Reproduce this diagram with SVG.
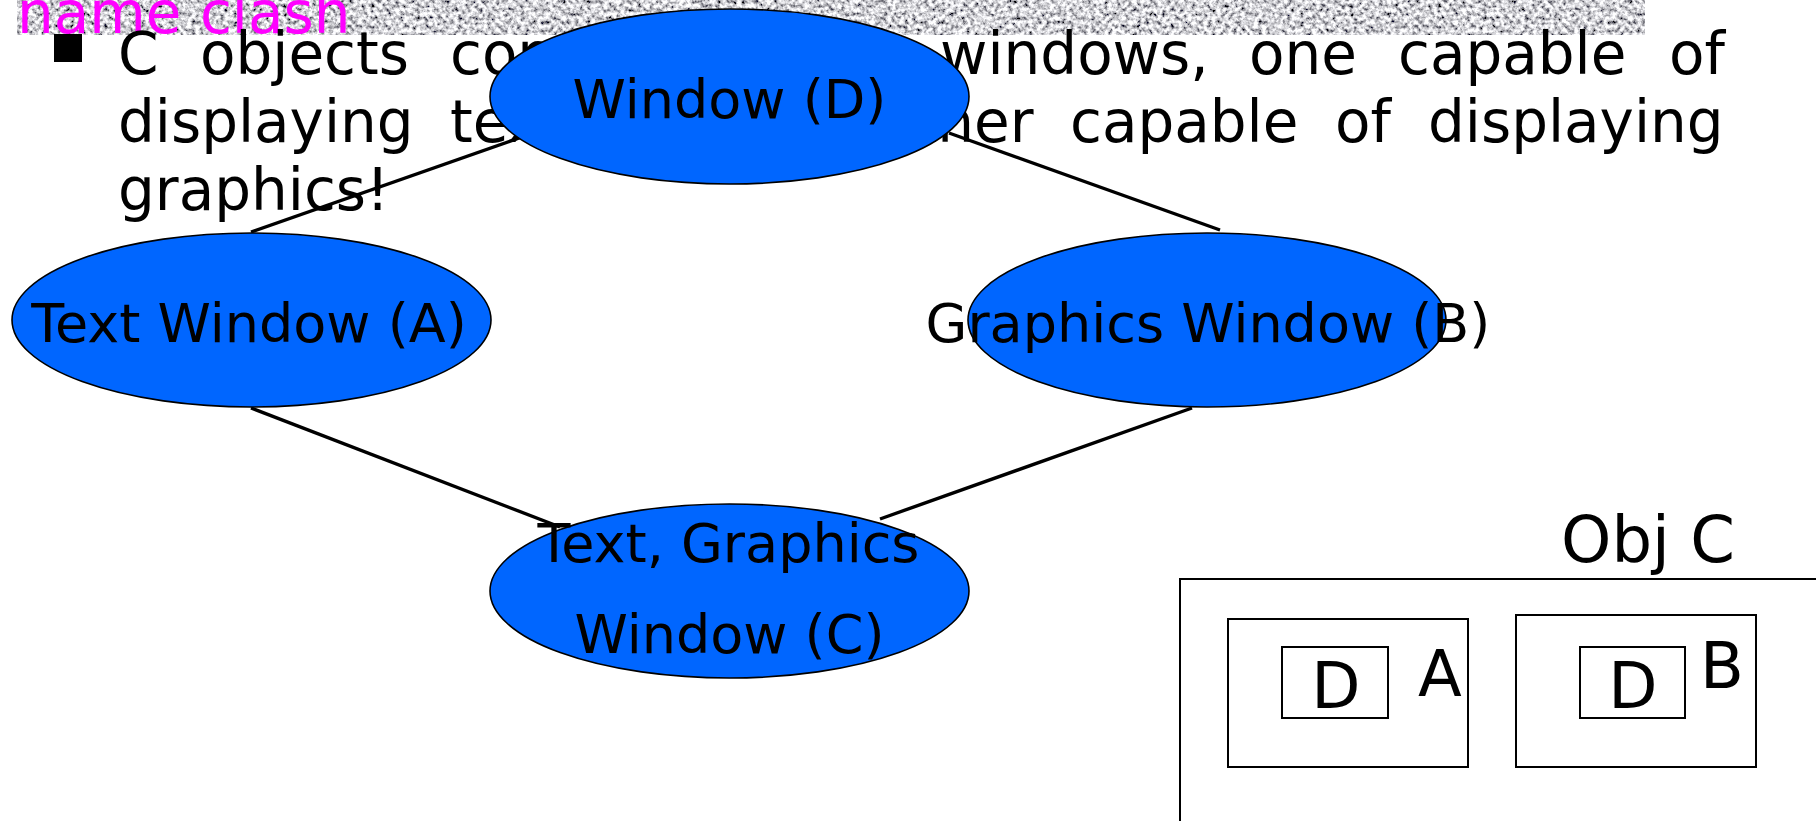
<svg xmlns="http://www.w3.org/2000/svg" width="1816" height="821" viewBox="0 0 1816 821">
  <style>
    text { font-family: "DejaVu Sans", "Liberation Sans", sans-serif; fill: #000; }
    .body { font-size: 58px; }
    .title { font-size: 58px; fill: #ff00ff; }
    .lbl { font-size: 54px; text-anchor: middle; }
    .box-lbl { font-size: 64px; }
    .node ellipse { fill: #0066ff; stroke: #000; stroke-width: 1.6; }
    .edge { stroke: #000; stroke-width: 3.4; fill: none; }
    .frame { fill: none; stroke: #000; stroke-width: 2; }
  </style>
  <defs>
    <!-- grainy grey header band -->
    <filter id="grain" filterUnits="userSpaceOnUse" x="17" y="0" width="1628" height="35">
      <feTurbulence type="fractalNoise" baseFrequency="0.24" numOctaves="3" seed="7" result="n"/>
      <feColorMatrix in="n" type="matrix" values="2.2 0 0 0 -0.45  2.2 0 0 0 -0.45  2.2 0 0 0 -0.42  0 0 0 0 1"/>
    </filter>
  </defs>

  <rect width="1816" height="821" fill="#fff"/>

  <!-- header -->
  <rect x="17" y="0" width="1628" height="35" fill="#a8a8a8" filter="url(#grain)"/>
  <text class="title" x="17" y="33">name clash</text>

  <!-- bullet paragraph (justified) -->
  <rect x="54" y="34" width="28" height="28" fill="#000"/>
  <text class="body" y="74"><tspan x="118">C</tspan><tspan x="200">objects</tspan><tspan x="450">consist</tspan><tspan x="695">of</tspan><tspan x="792">two</tspan><tspan x="940">windows,</tspan><tspan x="1249">one</tspan><tspan x="1398">capable</tspan><tspan x="1669">of</tspan></text>
  <text class="body" y="142"><tspan x="118">displaying</tspan><tspan x="450">text</tspan><tspan x="602">and</tspan><tspan x="748">the</tspan><tspan x="879">other</tspan><tspan x="1070">capable</tspan><tspan x="1335">of</tspan><tspan x="1428">displaying</tspan></text>
  <text class="body" x="118" y="210">graphics!</text>

  <!-- connectors -->
  <g id="connectors">
    <line class="edge" x1="522" y1="137" x2="251" y2="232"/>
    <line class="edge" x1="949" y1="133" x2="1220" y2="230"/>
    <line class="edge" x1="251" y1="408" x2="560" y2="527"/>
    <line class="edge" x1="1192" y1="408" x2="880" y2="519"/>
  </g>

  <!-- nodes -->
  <g id="node-d" class="node">
    <ellipse cx="729.5" cy="96.5" rx="239.5" ry="87.5"/>
    <text class="lbl" x="729.5" y="118">Window (D)</text>
  </g>
  <g id="node-a" class="node">
    <ellipse cx="251.5" cy="320" rx="239.5" ry="87"/>
    <text class="lbl" x="249" y="342">Text Window (A)</text>
  </g>
  <g id="node-b" class="node">
    <ellipse cx="1207" cy="320" rx="239" ry="87"/>
    <text class="lbl" x="1208" y="342">Graphics Window (B)</text>
  </g>
  <g id="node-c" class="node">
    <ellipse cx="729.5" cy="591" rx="239.5" ry="87"/>
    <text class="lbl" x="728.5" y="562">Text, Graphics</text>
    <text class="lbl" x="729.5" y="653">Window (C)</text>
  </g>

  <!-- object C layout -->
  <g id="obj-c">
    <text class="box-lbl" x="1561" y="562">Obj C</text>
    <path class="frame" d="M1180,821 V579 H1816"/>
  </g>
  <g id="obj-a">
    <rect class="frame" x="1228" y="619" width="240" height="148"/>
    <rect class="frame" x="1282" y="647" width="106" height="71"/>
    <text class="box-lbl" x="1336" y="708" text-anchor="middle">D</text>
    <text class="box-lbl" x="1418" y="696">A</text>
  </g>
  <g id="obj-b">
    <rect class="frame" x="1516" y="615" width="240" height="152"/>
    <rect class="frame" x="1580" y="647" width="105" height="71"/>
    <text class="box-lbl" x="1633" y="708" text-anchor="middle">D</text>
    <text class="box-lbl" x="1700" y="688">B</text>
  </g>
</svg>
